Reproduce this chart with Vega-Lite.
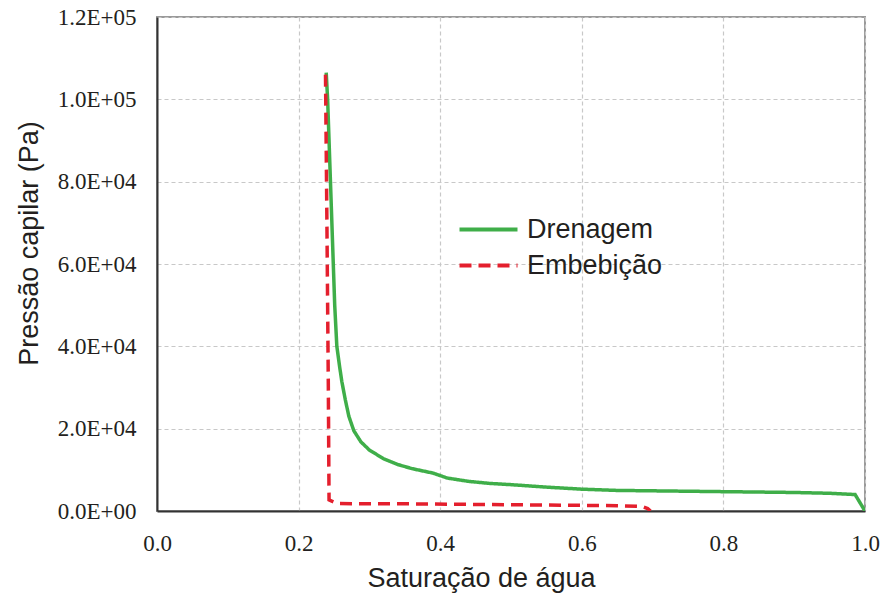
{
  "$schema": "https://vega.github.io/schema/vega-lite/v6.json",
  "width": 708,
  "height": 494,
  "autosize": {"type": "none"},
  "padding": {"left": 157, "top": 17, "right": 16, "bottom": 85},
  "background": "white",
  "config": {
    "view": {"stroke": "#9a9a9a", "strokeWidth": 2},
    "axis": {
      "labelFont": "Liberation Serif",
      "labelFontSize": 23,
      "labelColor": "#231f20",
      "labelFlush": false,
      "titleFont": "Liberation Sans",
      "titleFontSize": 27,
      "titleFontWeight": "normal",
      "titleColor": "#231f20",
      "domainColor": "#333333",
      "domainWidth": 2,
      "ticks": false,
      "gridColor": "#c8c8c8",
      "gridDash": [4, 3],
      "gridWidth": 1.2
    }
  },
  "data": {
    "values": [
      {"s": 0.239, "p": 106500, "serie": "Drenagem"},
      {"s": 0.241, "p": 100000, "serie": "Drenagem"},
      {"s": 0.243, "p": 90000, "serie": "Drenagem"},
      {"s": 0.245, "p": 80000, "serie": "Drenagem"},
      {"s": 0.247, "p": 70000, "serie": "Drenagem"},
      {"s": 0.249, "p": 60000, "serie": "Drenagem"},
      {"s": 0.251, "p": 50000, "serie": "Drenagem"},
      {"s": 0.254, "p": 40000, "serie": "Drenagem"},
      {"s": 0.258, "p": 35000, "serie": "Drenagem"},
      {"s": 0.261, "p": 31500, "serie": "Drenagem"},
      {"s": 0.266, "p": 27000, "serie": "Drenagem"},
      {"s": 0.271, "p": 23000, "serie": "Drenagem"},
      {"s": 0.278, "p": 19500, "serie": "Drenagem"},
      {"s": 0.288, "p": 16800, "serie": "Drenagem"},
      {"s": 0.30, "p": 14800, "serie": "Drenagem"},
      {"s": 0.32, "p": 12700, "serie": "Drenagem"},
      {"s": 0.34, "p": 11300, "serie": "Drenagem"},
      {"s": 0.36, "p": 10300, "serie": "Drenagem"},
      {"s": 0.39, "p": 9200, "serie": "Drenagem"},
      {"s": 0.41, "p": 8000, "serie": "Drenagem"},
      {"s": 0.44, "p": 7200, "serie": "Drenagem"},
      {"s": 0.47, "p": 6700, "serie": "Drenagem"},
      {"s": 0.50, "p": 6400, "serie": "Drenagem"},
      {"s": 0.55, "p": 5800, "serie": "Drenagem"},
      {"s": 0.60, "p": 5300, "serie": "Drenagem"},
      {"s": 0.65, "p": 5000, "serie": "Drenagem"},
      {"s": 0.70, "p": 4900, "serie": "Drenagem"},
      {"s": 0.75, "p": 4800, "serie": "Drenagem"},
      {"s": 0.80, "p": 4700, "serie": "Drenagem"},
      {"s": 0.85, "p": 4600, "serie": "Drenagem"},
      {"s": 0.90, "p": 4500, "serie": "Drenagem"},
      {"s": 0.95, "p": 4300, "serie": "Drenagem"},
      {"s": 0.986, "p": 4000, "serie": "Drenagem"},
      {"s": 1.0, "p": 0, "serie": "Drenagem"},
      {"s": 0.238, "p": 106000, "serie": "Embebição"},
      {"s": 0.240, "p": 70000, "serie": "Embebição"},
      {"s": 0.242, "p": 30000, "serie": "Embebição"},
      {"s": 0.243, "p": 2700, "serie": "Embebição"},
      {"s": 0.255, "p": 1800, "serie": "Embebição"},
      {"s": 0.35, "p": 1750, "serie": "Embebição"},
      {"s": 0.45, "p": 1600, "serie": "Embebição"},
      {"s": 0.55, "p": 1450, "serie": "Embebição"},
      {"s": 0.65, "p": 1300, "serie": "Embebição"},
      {"s": 0.685, "p": 1100, "serie": "Embebição"},
      {"s": 0.693, "p": 600, "serie": "Embebição"},
      {"s": 0.697, "p": 0, "serie": "Embebição"}
    ]
  },
  "mark": {"type": "line", "strokeWidth": 3.5, "clip": true},
  "encoding": {
    "x": {
      "field": "s",
      "type": "quantitative",
      "scale": {"domain": [0, 1], "nice": false},
      "axis": {"values": [0, 0.2, 0.4, 0.6, 0.8, 1.0], "format": ".1f", "labelPadding": 21, "title": "Saturação de água", "titlePadding": 10, "titleX": 324}
    },
    "y": {
      "field": "p",
      "type": "quantitative",
      "scale": {"domain": [0, 120000], "nice": false},
      "axis": {
        "values": [0, 20000, 40000, 60000, 80000, 100000, 120000],
        "labelExpr": "replace(format(datum.value, '.1e'), 'e+', 'E+0')",
        "labelPadding": 21,
        "title": "Pressão capilar (Pa)",
        "titlePadding": 14,
        "titleY": 226
      }
    },
    "color": {
      "field": "serie",
      "type": "nominal",
      "scale": {"domain": ["Drenagem", "Embebição"], "range": ["#3fae49", "#e41f2d"]},
      "legend": {
        "title": null,
        "orient": "none",
        "legendX": 315,
        "legendY": 196,
        "symbolType": "M-2,0L2,0",
        "symbolSize": 841,
        "symbolStrokeWidth": 4,
        "symbolFillColor": "transparent",
        "labelFont": "Liberation Sans",
        "labelFontSize": 27,
        "labelColor": "#231f20",
        "labelOffset": 22,
        "rowPadding": 6
      }
    },
    "strokeDash": {
      "field": "serie",
      "type": "nominal",
      "scale": {"domain": ["Drenagem", "Embebição"], "range": [[1, 0], [12, 7]]},
      "legend": null
    }
  }
}
